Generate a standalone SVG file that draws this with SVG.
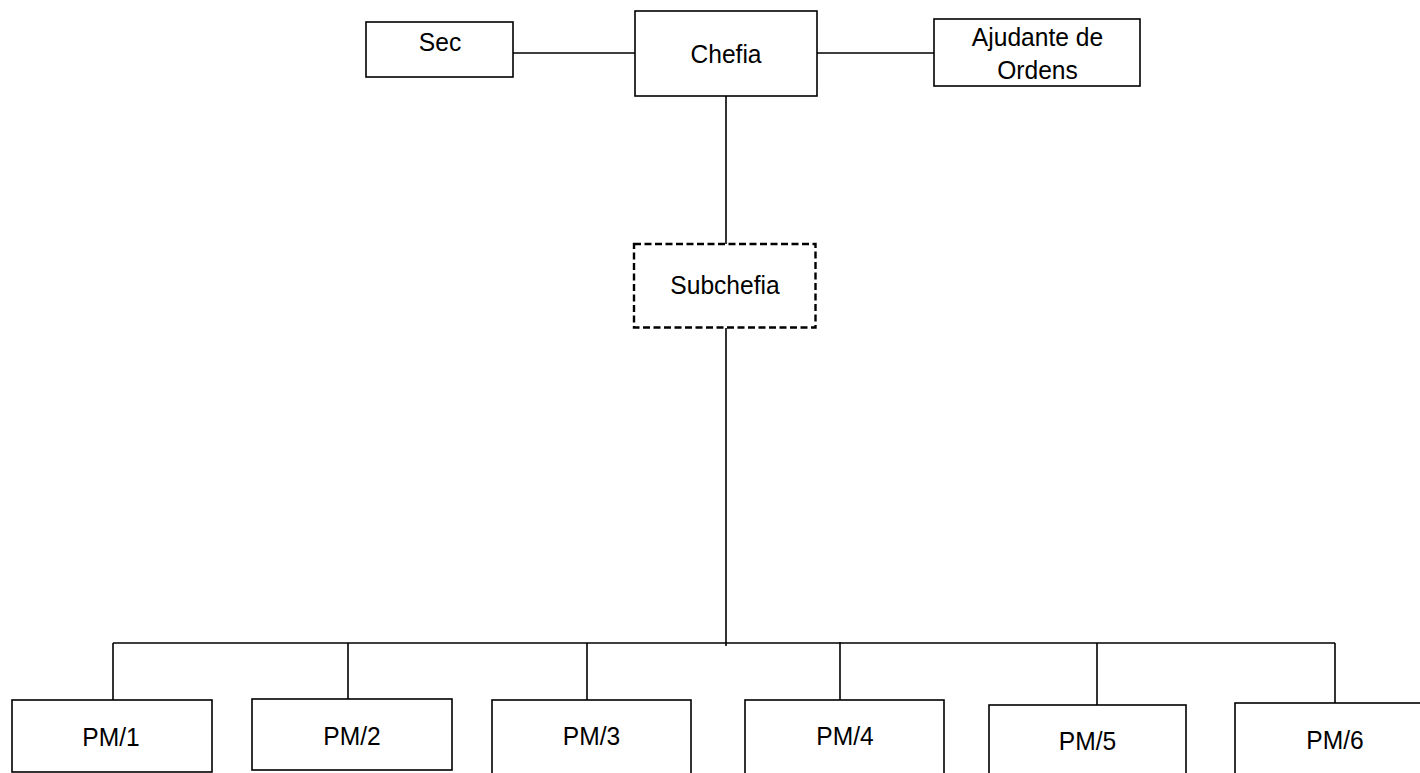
<svg xmlns="http://www.w3.org/2000/svg" width="1420" height="773" viewBox="0 0 1420 773">
<style>
.box{fill:#fff;stroke:#000;stroke-width:1.6}
.dash{fill:#fff;stroke:#000;stroke-width:2.4;stroke-dasharray:7 3.5}
.ln{stroke:#000;stroke-width:1.6;fill:none}
text{font-family:"Liberation Sans",Arial,sans-serif;font-size:24.6px;fill:#000;text-anchor:middle}
</style>
<rect width="1420" height="773" fill="#fff"/>
<g id="connectors">
<line class="ln" x1="513" y1="53" x2="635" y2="53"/>
<line class="ln" x1="817" y1="53" x2="934" y2="53"/>
<line class="ln" x1="726" y1="96" x2="726" y2="244"/>
<line class="ln" x1="726" y1="328" x2="726" y2="646"/>
<line class="ln" x1="113" y1="643" x2="1335" y2="643"/>
<line class="ln" x1="113" y1="643" x2="113" y2="700"/>
<line class="ln" x1="348" y1="643" x2="348" y2="699"/>
<line class="ln" x1="587" y1="643" x2="587" y2="700"/>
<line class="ln" x1="840" y1="642" x2="840" y2="700"/>
<line class="ln" x1="1097" y1="643" x2="1097" y2="705"/>
<line class="ln" x1="1335" y1="643" x2="1335" y2="703"/>
</g>
<g id="sec">
<rect class="box" x="366" y="22" width="147" height="55"/>
<text transform="translate(440,50.5) scale(1,1.08)">Sec</text>
</g>
<g id="chefia">
<rect class="box" x="635" y="11" width="182" height="85"/>
<text transform="translate(726,63) scale(1,1.08)">Chefia</text>
</g>
<g id="ajudante">
<rect class="box" x="934" y="19" width="206" height="67"/>
<text transform="translate(1037.5,46) scale(1,1.08)">Ajudante de</text>
<text transform="translate(1037.5,79) scale(1,1.08)">Ordens</text>
</g>
<g id="subchefia">
<rect class="dash" x="634" y="244" width="181.5" height="83.5"/>
<text transform="translate(725,294) scale(1,1.08)">Subchefia</text>
</g>
<g id="pm1">
<rect class="box" x="12" y="700" width="200" height="72"/>
<text transform="translate(111,746) scale(1,1.08)">PM/1</text>
</g>
<g id="pm2">
<rect class="box" x="252" y="699" width="200" height="71"/>
<text transform="translate(352,745) scale(1,1.08)">PM/2</text>
</g>
<g id="pm3">
<rect class="box" x="492" y="700" width="199" height="74"/>
<text transform="translate(591.5,745) scale(1,1.08)">PM/3</text>
</g>
<g id="pm4">
<rect class="box" x="745" y="700" width="199" height="74"/>
<text transform="translate(845,745) scale(1,1.08)">PM/4</text>
</g>
<g id="pm5">
<rect class="box" x="989" y="705" width="197" height="70"/>
<text transform="translate(1087.5,750) scale(1,1.08)">PM/5</text>
</g>
<g id="pm6">
<rect class="box" x="1235" y="703" width="190" height="75"/>
<text transform="translate(1335,749) scale(1,1.08)">PM/6</text>
</g>
</svg>
